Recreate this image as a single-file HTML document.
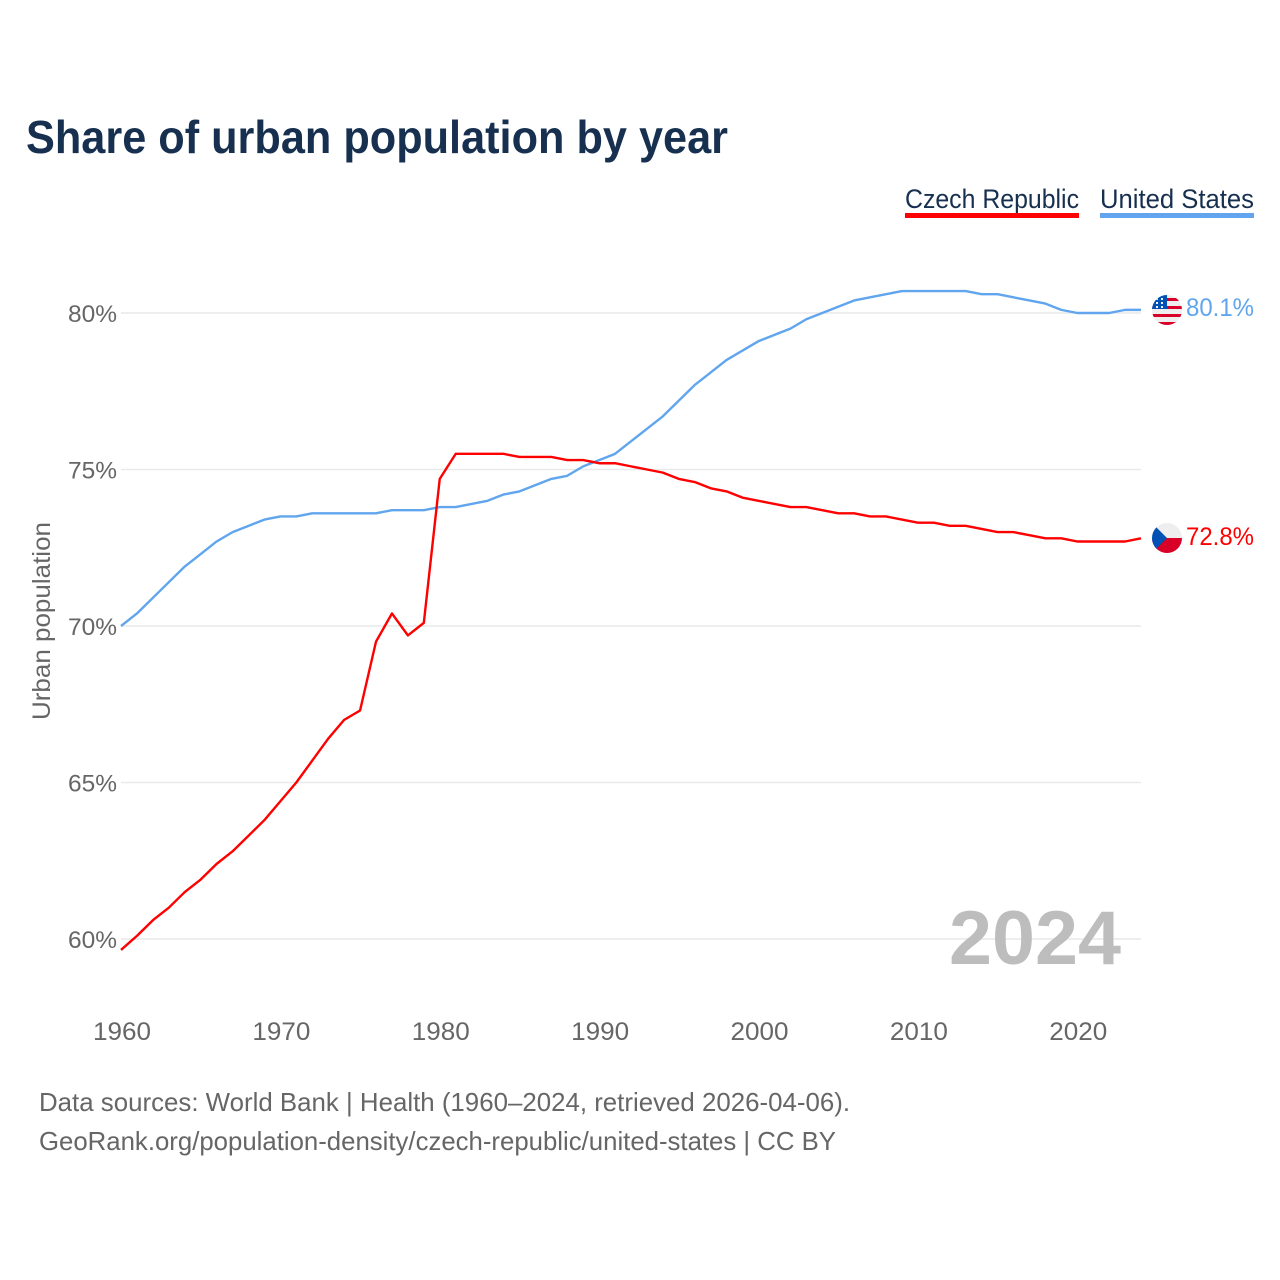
<!DOCTYPE html>
<html lang="en">
<head>
<meta charset="utf-8">
<title>Share of urban population by year</title>
<style>
html,body{margin:0;padding:0;background:#fff;}
svg{display:block;}
text{font-family:"Liberation Sans",sans-serif;}
</style>
</head>
<body>
<svg id="chart" width="1280" height="1280" viewBox="0 0 1280 1280" xmlns="http://www.w3.org/2000/svg">
  <defs>
    <clipPath id="us-clip"><circle cx="1167" cy="310" r="15"/></clipPath>
    <clipPath id="cz-clip"><circle cx="1167" cy="538" r="15"/></clipPath>
  </defs>
  <rect x="0" y="0" width="1280" height="1280" fill="#fff"/>
  <text x="26" y="153" font-size="46" font-weight="700" fill="#17304f" textLength="702" lengthAdjust="spacingAndGlyphs">Share of urban population by year</text>

  <g>
    <g>
      <text x="905" y="208" font-size="27" fill="#17304f" textLength="174" lengthAdjust="spacingAndGlyphs">Czech Republic</text>
      <rect x="905" y="213" width="174" height="5" fill="#ff0000"/>
    </g>
    <g>
      <text x="1100" y="208" font-size="27" fill="#17304f" textLength="154" lengthAdjust="spacingAndGlyphs">United States</text>
      <rect x="1100" y="213" width="154" height="5" fill="#60a5ee"/>
    </g>
  </g>

  <g id="grid"></g>
  <g id="yticks"></g>
  <g id="xticks"></g>
  <text transform="translate(50,621) rotate(-90)" text-anchor="middle" font-size="25" fill="#666" textLength="198" lengthAdjust="spacingAndGlyphs">Urban population</text>

  <text x="949" y="964" font-size="76" font-weight="700" fill="#bdbdbd" textLength="172" lengthAdjust="spacingAndGlyphs">2024</text>

  <g id="series"></g>

  <g clip-path="url(#us-clip)">
    <rect x="1152" y="295" width="30" height="30" fill="#eeeeee"/>
    <rect x="1152" y="298" width="30" height="3" fill="#d80027"/>
    <rect x="1152" y="306" width="30" height="3" fill="#d80027"/>
    <rect x="1152" y="314" width="30" height="3" fill="#d80027"/>
    <rect x="1152" y="322" width="30" height="3" fill="#d80027"/>
    <rect x="1152" y="295" width="15" height="14" fill="#0052b4"/>
    <rect x="1156" y="298" width="2" height="2" fill="#eee"/>
    <rect x="1161" y="298" width="2" height="2" fill="#eee"/>
    <rect x="1156" y="302" width="2" height="2" fill="#eee"/>
    <rect x="1161" y="302" width="2" height="2" fill="#eee"/>
    <rect x="1156" y="306" width="2" height="2" fill="#eee"/>
    <rect x="1161" y="306" width="2" height="2" fill="#eee"/>
  </g>
  <g clip-path="url(#cz-clip)">
    <rect x="1152" y="523" width="30" height="15" fill="#eeeeee"/>
    <rect x="1152" y="538" width="30" height="15" fill="#d80027"/>
    <polygon points="1152,523 1167,538 1152,553" fill="#0052b4"/>
  </g>
  <g id="endlabels"></g>

  <text x="39" y="1111" font-size="26" fill="#666" textLength="811" lengthAdjust="spacingAndGlyphs">Data sources: World Bank | Health (1960–2024, retrieved 2026-04-06).</text>
  <text x="39" y="1150" font-size="26" fill="#666" textLength="797" lengthAdjust="spacingAndGlyphs">GeoRank.org/population-density/czech-republic/united-states | CC BY</text>
</svg>
<script>
const startYear = 1960;
const xTickYears = [1960, 1970, 1980, 1990, 2000, 2010, 2020];
const yTickValues = [60, 65, 70, 75, 80];
const czechValues = [
  59.65, 60.1, 60.6, 61.0, 61.5, 61.9, 62.4, 62.8, 63.3, 63.8,
  64.4, 65.0, 65.7, 66.4, 67.0, 67.3, 69.5, 70.4, 69.7, 70.1,
  74.7, 75.5, 75.5, 75.5, 75.5, 75.4, 75.4, 75.4, 75.3, 75.3,
  75.2, 75.2, 75.1, 75.0, 74.9, 74.7, 74.6, 74.4, 74.3, 74.1,
  74.0, 73.9, 73.8, 73.8, 73.7, 73.6, 73.6, 73.5, 73.5, 73.4,
  73.3, 73.3, 73.2, 73.2, 73.1, 73.0, 73.0, 72.9, 72.8, 72.8,
  72.7, 72.7, 72.7, 72.7, 72.8
];
const usValues = [
  70.0, 70.4, 70.9, 71.4, 71.9, 72.3, 72.7, 73.0, 73.2, 73.4,
  73.5, 73.5, 73.6, 73.6, 73.6, 73.6, 73.6, 73.7, 73.7, 73.7,
  73.8, 73.8, 73.9, 74.0, 74.2, 74.3, 74.5, 74.7, 74.8, 75.1,
  75.3, 75.5, 75.9, 76.3, 76.7, 77.2, 77.7, 78.1, 78.5, 78.8,
  79.1, 79.3, 79.5, 79.8, 80.0, 80.2, 80.4, 80.5, 80.6, 80.7,
  80.7, 80.7, 80.7, 80.7, 80.6, 80.6, 80.5, 80.4, 80.3, 80.1,
  80.0, 80.0, 80.0, 80.1, 80.1
];
const czechLabel = "72.8%";
const usLabel = "80.1%";

const NS = "http://www.w3.org/2000/svg";
function xScale(year) { return 121 + (year - 1960) * (1020 / 64); }
function yScale(v) { return 939 - (v - 60) * 31.3; }
function make(tag, parent, attrs, txt) {
  const el = document.createElementNS(NS, tag);
  for (const k in attrs) el.setAttribute(k, attrs[k]);
  if (txt !== undefined) el.textContent = txt;
  document.getElementById(parent).appendChild(el);
  return el;
}

yTickValues.forEach(function (v) {
  const line = make("line", "grid", { x1: 121, x2: 1141, y1: yScale(v), y2: yScale(v), stroke: "#e9e9e9", "stroke-width": 1.5 });
  
  
  const label = make("text", "yticks", { x: 117, y: yScale(v) + 9, "text-anchor": "end", "font-size": 24, fill: "#666", textLength: 49, lengthAdjust: "spacingAndGlyphs" }, v + "%");
  
  
});

xTickYears.forEach(function (y) {
  const label = make("text", "xticks", { x: xScale(y) + 1, y: 1040, "text-anchor": "middle", "font-size": 25, fill: "#666", textLength: 58, lengthAdjust: "spacingAndGlyphs" }, String(y));
  
  
});

function pathFor(values) {
  return values.map(function (v, i) {
    return (i ? "L" : "M") + xScale(startYear + i).toFixed(2) + " " + yScale(v).toFixed(2);
  }).join(" ");
}

const usLine = make("path", "series", { d: pathFor(usValues), fill: "none", stroke: "#60a5ee", "stroke-width": 2.4, "stroke-linejoin": "round" });


const czLine = make("path", "series", { d: pathFor(czechValues), fill: "none", stroke: "#ff0000", "stroke-width": 2.4, "stroke-linejoin": "round" });



const usEnd = make("text", "endlabels", { x: 1186, y: 316, "font-size": 25, fill: "#60a5ee", textLength: 68, lengthAdjust: "spacingAndGlyphs" }, usLabel);


const czEnd = make("text", "endlabels", { x: 1186, y: 545, "font-size": 25, fill: "#ff0000", textLength: 68, lengthAdjust: "spacingAndGlyphs" }, czechLabel);


</script>
</body>
</html>
